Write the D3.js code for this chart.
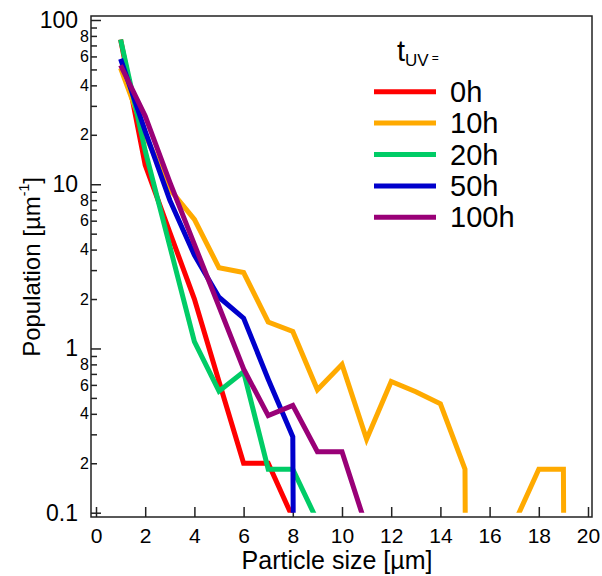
<!DOCTYPE html>
<html><head><meta charset="utf-8">
<script src="https://cdn.jsdelivr.net/npm/d3@7"></script>
<style>
body{margin:0;background:#fff}
svg{display:block}
text{font-family:"Liberation Sans",Arial,Helvetica,sans-serif;fill:#000}
</style>
</head><body>
<svg id="c" width="602" height="576"></svg>
<script>
// ---- data ----
const seriesNames = ["0h", "10h", "20h", "50h", "100h"];
const seriesColors = ["#ff0000", "#ffaa00", "#00cc66", "#0000cc", "#990077"];
const sizes0h   = [1, 2, 3, 4, 5, 6, 7, 8, 9];
const pop0h     = [76, 13.1, 5.1, 2.0, 0.63, 0.2, 0.2, 0.093, 0];
const sizes10h  = [1, 2, 3, 4, 5, 6, 7, 8, 9, 10, 11, 12, 13, 14, 15, 16, 17, 18, 19, 20];
const pop10h    = [51, 20, 9.3, 6.1, 3.1, 2.9, 1.45, 1.27, 0.56, 0.80, 0.28, 0.63, 0.545, 0.46, 0.184, 0, 0.086, 0.184, 0.184, 0];
const sizes20h  = [1, 2, 3, 4, 5, 6, 7, 8, 9];
const pop20h    = [76, 16, 4.2, 1.1, 0.55, 0.72, 0.184, 0.184, 0.089];
const sizes50h  = [1, 2, 3, 4, 5, 6, 7, 8, 9];
const pop50h    = [58, 21, 8.0, 3.7, 2.05, 1.53, 0.65, 0.29, 0];
const sizes100h = [1, 2, 3, 4, 5, 6, 7, 8, 9, 10, 11];
const pop100h   = [53, 26, 10.3, 4.3, 1.8, 0.75, 0.39, 0.45, 0.235, 0.235, 0.081];
const xTicks = [0, 2, 4, 6, 8, 10, 12, 14, 16, 18, 20];
const yMajorTicks = [0.1, 1, 10, 100];
const yMinorTicks = [0.2,0.3,0.4,0.5,0.6,0.7,0.8,0.9, 2,3,4,5,6,7,8,9, 20,30,40,50,60,70,80,90];
const yMinorLabeled = [2, 4, 6, 8];
const xTitle = "Particle size [µm]";
const legendTitle = "t";

const allSizes = [sizes0h, sizes10h, sizes20h, sizes50h, sizes100h];
const allPops = [pop0h, pop10h, pop20h, pop50h, pop100h];

// ---- layout ----
const svg = d3.select("#c");
const frame = {l: 91, r: 592, t: 16, b: 517};
const x = d3.scaleLinear([0, 20], [96, 588]);
const y = d3.scaleLog([0.1, 100], [512.7, 20]);
const yPos = v => v > 0 ? y(v) : y(1e-30);
const axisColor = "#222";

svg.append("defs").append("clipPath").attr("id", "plotclip")
  .append("rect").attr("x", frame.l).attr("y", frame.t)
  .attr("width", frame.r - frame.l).attr("height", y(0.1) - frame.t);

// frame
svg.append("rect").attr("x", frame.l).attr("y", frame.t)
  .attr("width", frame.r - frame.l).attr("height", frame.b - frame.t)
  .attr("fill", "none").attr("stroke", axisColor).attr("stroke-width", 1.5);

// x axis
const gx = svg.append("g").attr("transform", `translate(0,${frame.b})`)
  .call(d3.axisBottom(x).tickValues(xTicks).tickSize(-10).tickPadding(11).tickFormat(d3.format("d")));
gx.select(".domain").remove();
gx.selectAll("line").attr("stroke", axisColor).attr("stroke-width", 1.5);
gx.selectAll("text").attr("font-size", 21).attr("fill", "#000")
  .attr("font-family", '"Liberation Sans",Arial,sans-serif');

// y axis major
const gyM = svg.append("g").attr("transform", `translate(${frame.l},0)`)
  .call(d3.axisLeft(y).tickValues(yMajorTicks).tickSize(-10).tickPadding(13).tickFormat(d3.format("~g")));
gyM.select(".domain").remove();
gyM.selectAll("line").attr("stroke", axisColor).attr("stroke-width", 1.5);
gyM.selectAll("text").attr("font-size", 23).attr("fill", "#000")
  .attr("font-family", '"Liberation Sans",Arial,sans-serif');

// y axis minor
const lead = d => Math.round(d / Math.pow(10, Math.floor(Math.log10(d) + 1e-9)));
const gym = svg.append("g").attr("transform", `translate(${frame.l},0)`)
  .call(d3.axisLeft(y).tickValues(yMinorTicks).tickSize(-6).tickPadding(2)
    .tickFormat(d => yMinorLabeled.includes(lead(d)) ? String(lead(d)) : ""));
gym.select(".domain").remove();
gym.selectAll("line").attr("stroke", axisColor).attr("stroke-width", 1.5);
gym.selectAll("text").attr("font-size", 16).attr("fill", "#000")
  .attr("font-family", '"Liberation Sans",Arial,sans-serif');

// axis titles
svg.append("text").attr("x", 337).attr("y", 569).attr("text-anchor", "middle")
  .attr("font-size", 25).text(xTitle);
const yt = svg.append("text").attr("transform", "translate(40,267) rotate(-90)")
  .attr("text-anchor", "middle").attr("font-size", 24);
yt.append("tspan").text("Population [µm");
yt.append("tspan").attr("font-size", 14).attr("dy", -11).text("-1");
yt.append("tspan").attr("dy", 11).text("]");

// lines
const line = d3.line().x(d => x(d[0])).y(d => yPos(d[1]));
const gl = svg.append("g").attr("clip-path", "url(#plotclip)");
allPops.forEach((pops, i) => {
  const pts = pops.map((v, j) => [allSizes[i][j], v]);
  gl.append("path").datum(pts).attr("d", line)
    .attr("fill", "none").attr("stroke", seriesColors[i]).attr("stroke-width", 5)
    .attr("stroke-linejoin", "miter").attr("stroke-miterlimit", 3);
});

// legend
const lt = svg.append("text").attr("x", 397).attr("y", 61).attr("font-size", 29);
lt.append("tspan").text(legendTitle);
lt.append("tspan").attr("font-size", 17).attr("dy", 5).text("UV");
lt.append("tspan").attr("font-size", 12).attr("dx", 3).attr("dy", -4).text("=");
const lg = svg.append("g");
seriesNames.forEach((name, i) => {
  const yy = 91.7 + i * 31.4;
  lg.append("line").attr("x1", 374).attr("x2", 436).attr("y1", yy).attr("y2", yy)
    .attr("stroke", seriesColors[i]).attr("stroke-width", 5);
  lg.append("text").attr("x", 450).attr("y", yy + 10).attr("font-size", 29).text(name);
});
</script>
</body></html>
